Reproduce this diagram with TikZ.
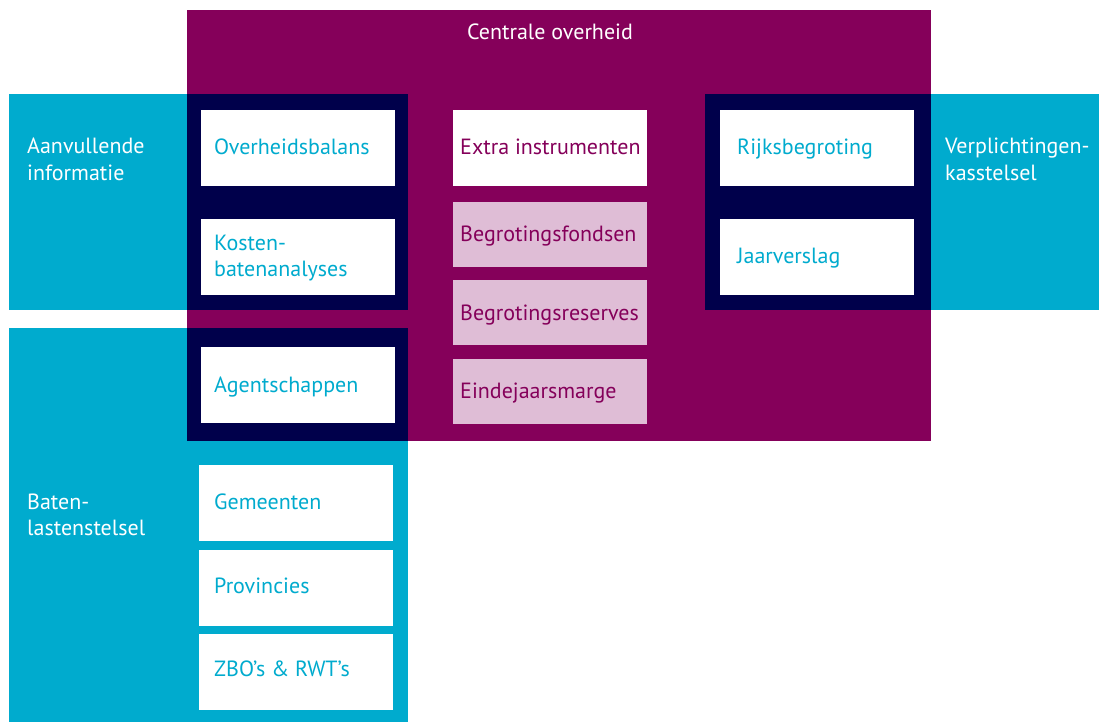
\documentclass[tikz,border=0pt]{standalone}
\usepackage{fontspec}
\setmainfont{PT Sans}
\definecolor{cpurple}{HTML}{85005A}
\definecolor{cnavy}{HTML}{00004B}
\definecolor{ccyan}{HTML}{00ABCE}
\definecolor{cpink}{HTML}{DFBDD6}
\tikzset{
  txt/.style={anchor=base west, inner sep=0pt, font=\fontsize{22}{26}\selectfont, align=left},
  wtxt/.style={txt, text=white},
  ctxt/.style={txt, text=ccyan},
  ptxt/.style={txt, text=cpurple},
}
\begin{document}
\begin{tikzpicture}[x=1pt,y=-1pt]
\useasboundingbox (0,0) rectangle (1099,722);
% big panels
\fill[cpurple] (187,10) rectangle (931,441);
\fill[ccyan] (9,94) rectangle (408,310);
\fill[ccyan] (9,328) rectangle (408,722);
\fill[ccyan] (931,94) rectangle (1099,310);
\fill[cnavy] (187,94) rectangle (408,310);
\fill[cnavy] (187,328) rectangle (408,441);
\fill[cnavy] (705,94) rectangle (931,310);
% white boxes
\fill[white] (201,110) rectangle (395,186);
\fill[white] (201,219) rectangle (395,295);
\fill[white] (201,347) rectangle (395,423);
\fill[white] (199,465) rectangle (393,541);
\fill[white] (199,550) rectangle (393,626);
\fill[white] (199,634) rectangle (393,710);
\fill[white] (453,110) rectangle (647,186);
\fill[white] (720,110) rectangle (914,186);
\fill[white] (720,219) rectangle (914,295);
\fill[cpink] (453,202) rectangle (647,267);
\fill[cpink] (453,280) rectangle (647,345);
\fill[cpink] (453,359) rectangle (647,424);
% texts
\node[wtxt, anchor=base] (co) at (550,40) {Centrale overheid};
\node[wtxt] (aanv) at (27,180) {Aanvullende\\informatie};
\node[wtxt] (verpl) at (945,180) {Verplichtingen-\\kasstelsel};
\node[wtxt] (baten) at (27,535) {Baten-\\lastenstelsel};
\node[ctxt] (ob) at (214,155) {Overheidsbalans};
\node[ctxt] (kba) at (214,276) {Kosten-\\batenanalyses};
\node[ctxt] (ag) at (214,392) {Agentschappen};
\node[ctxt] (gem) at (214,509) {Gemeenten};
\node[ctxt] (prov) at (214,593) {Provincies};
\node[ctxt] (zbo) at (214,676) {ZBO’s \& RWT’s};
\node[ptxt] (extra) at (460,155) {Extra instrumenten};
\node[ptxt] (bf) at (460,241) {Begrotingsfondsen};
\node[ptxt] (br) at (460,320) {Begrotingsreserves};
\node[ptxt] (em) at (460,398) {Eindejaarsmarge};
\node[ctxt] (rb) at (737,155) {Rijksbegroting};
\node[ctxt] (jv) at (737,263) {Jaarverslag};
\end{tikzpicture}
\end{document}
